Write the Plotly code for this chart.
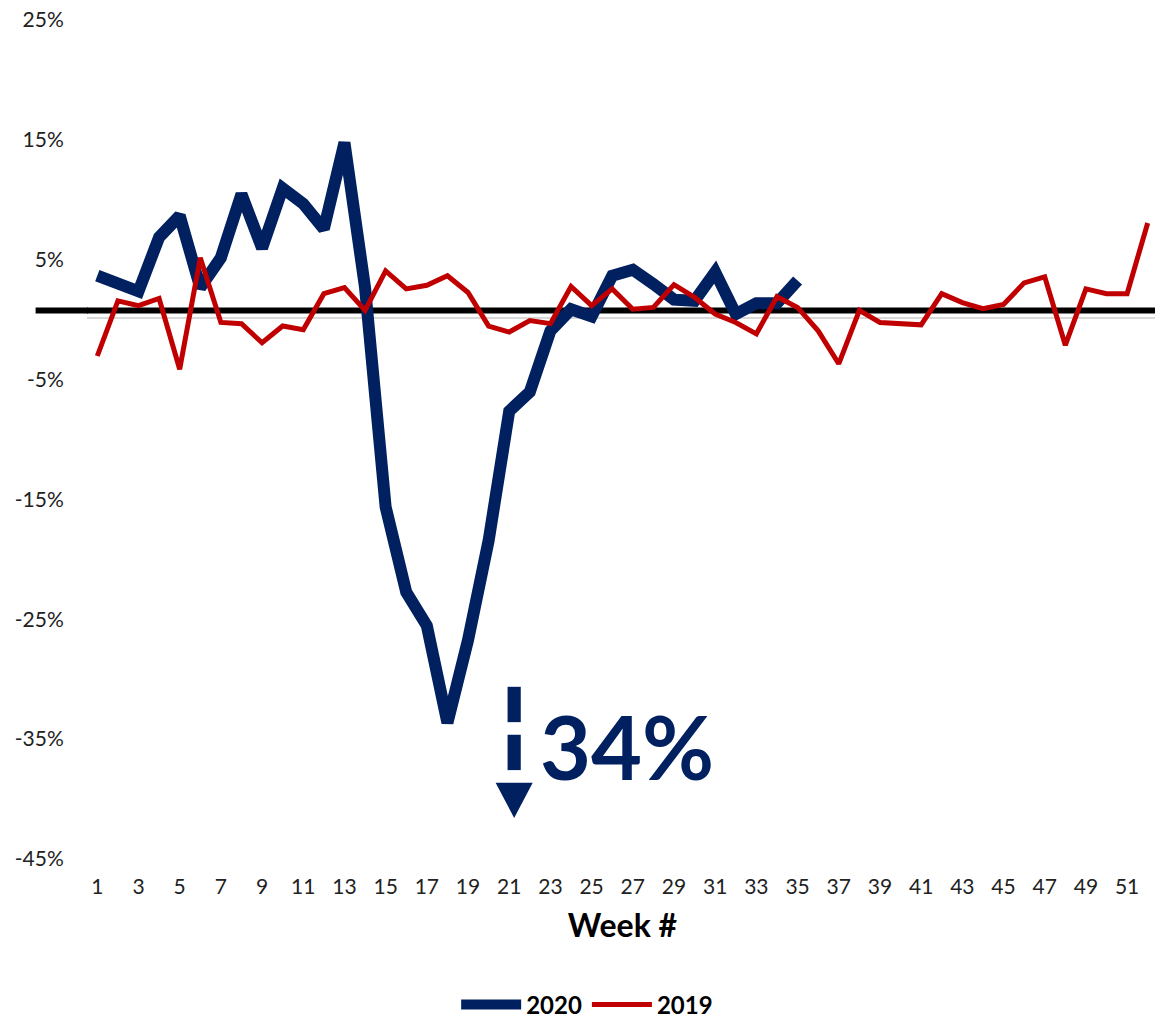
import plotly.graph_objects as go

weeks_2020 = list(range(1, 36))
values_2020 = [3.5, 2.8, 2.2, 6.7, 8.5, 2.5, 5.0, 10.3, 5.8, 10.8, 9.5, 7.4, 14.6, 2.5,
               -15.8, -22.9, -25.7, -33.8, -26.9, -18.6, -7.8, -6.2, -1.1, 0.7, 0.1,
               3.5, 4.0, 2.8, 1.5, 1.4, 3.8, 0.3, 1.2, 1.2, 3.1]

weeks_2019 = list(range(1, 53))
values_2019 = [-3.2, 1.4, 1.0, 1.6, -4.3, 5.0, -0.4, -0.5, -2.1, -0.7, -1.0, 2.0, 2.5,
               0.6, 3.9, 2.4, 2.7, 3.5, 2.1, -0.7, -1.2, -0.25, -0.5, 2.6, 1.0, 2.4,
               0.7, 0.85, 2.75, 1.7, 0.3, -0.4, -1.35, 1.75, 0.85, -1.1, -3.85, 0.6,
               -0.4, -0.5, -0.6, 2.0, 1.25, 0.75, 1.1, 2.9, 3.4, -2.3, 2.4, 2.0, 2.0, 7.9]

baseline = 0.6
y_tick_vals = [-45, -35, -25, -15, -5, 5, 15, 25]
y_tick_text = ["-45%", "-35%", "-25%", "-15%", "-5%", "5%", "15%", "25%"]
x_tick_vals = list(range(1, 52, 2))
x_tick_text = [str(v) for v in x_tick_vals]
y_min, y_max = -45, 25

callout_text = "34%"
callout_week, callout_value = 26.7, -35.7
arrow_week = 21.24
arrow_half = 0.32
dash_segments = [(-30.8, -33.75), (-34.8, -37.75)]
head_top, head_tip, head_half = -38.8, -41.75, 0.9

navy = "#002060"
red = "#C00000"
font_family = "Lato, 'Open Sans', sans-serif"

plot_h_px = 1019 - 10 - 170

fig = go.Figure()
fig.add_trace(go.Scatter(x=weeks_2020, y=values_2020, mode="lines", name="2020",
                         line=dict(color=navy, width=12)))
fig.add_trace(go.Scatter(x=weeks_2019, y=values_2019, mode="lines", name="2019",
                         line=dict(color=red, width=5)))

shapes = []
y_base_paper = (baseline - y_min) / (y_max - y_min)
half_thick = 3 / plot_h_px
shapes.append(dict(type="line", xref="paper", yref="paper", x0=0, x1=1,
                   y0=y_base_paper, y1=y_base_paper, line=dict(color="black", width=6),
                   layer="below"))
# extensions of black reference line beyond plot area
shapes.append(dict(type="rect", xref="paper", yref="paper", x0=-0.048, x1=0.001,
                   y0=y_base_paper - half_thick, y1=y_base_paper + half_thick,
                   fillcolor="black", line=dict(width=0), layer="above"))
shapes.append(dict(type="rect", xref="paper", yref="paper", x0=0.999, x1=1.02,
                   y0=y_base_paper - half_thick, y1=y_base_paper + half_thick,
                   fillcolor="black", line=dict(width=0), layer="above"))
for (a, b) in dash_segments:
    shapes.append(dict(type="rect", xref="x", yref="y", x0=arrow_week - arrow_half,
                       x1=arrow_week + arrow_half, y0=a, y1=b, fillcolor=navy,
                       line=dict(width=0)))
shapes.append(dict(type="path", xref="x", yref="y",
                   path=f"M {arrow_week - head_half},{head_top} L {arrow_week + head_half},{head_top} L {arrow_week},{head_tip} Z",
                   fillcolor=navy, line=dict(width=0)))

annotations = [
    dict(x=callout_week, y=callout_value, xref="x", yref="y",
         text=f"<b>{callout_text}</b>", showarrow=False,
         font=dict(size=88, color=navy, family=font_family)),
]

fig.update_layout(
    width=1163, height=1019,
    margin=dict(l=79, r=13, t=10, b=170, autoexpand=False),
    paper_bgcolor="white", plot_bgcolor="white",
    font=dict(family=font_family, color="#222222", size=20),
    showlegend=True,
    legend=dict(orientation="h", x=0.467, xanchor="center",
                yref="container", y=0.0216, yanchor="middle",
                font=dict(size=24, color="black", family=font_family, weight="bold"),
                itemwidth=60, tracegroupgap=0),
    shapes=shapes,
    annotations=annotations,
    xaxis=dict(range=[0.5, 52.5], tickvals=x_tick_vals, ticktext=x_tick_text,
               showgrid=False, zeroline=False, showline=False,
               ticks="outside", ticklen=11, tickcolor="rgba(0,0,0,0)",
               tickfont=dict(size=21), automargin=False, ticklabeloverflow="allow",
               title=dict(text="<b>Week #</b>", font=dict(size=32, color="black"), standoff=17)),
    yaxis=dict(range=[y_min, y_max], tickvals=y_tick_vals, ticktext=y_tick_text,
               showgrid=False, zeroline=True, zerolinecolor="#d9d9d9", zerolinewidth=2,
               showline=False, ticks="outside", ticklen=18, tickcolor="rgba(0,0,0,0)",
               tickfont=dict(size=21), automargin=False, ticklabeloverflow="allow",
               ticklabelshift=2),
)

fig.write_html("out.html")
